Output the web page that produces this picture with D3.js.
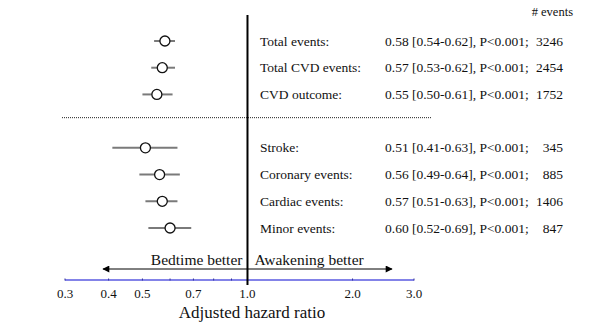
<!DOCTYPE html>
<html>
<head>
<meta charset="utf-8">
<title>forest plot</title>
<script src="https://d3js.org/d3.v7.min.js"></script>
<style>
  body { margin: 0; background: #fff; }
  text { font-family: "Liberation Serif", "Times New Roman", serif; fill: #111; }
</style>
</head>
<body>
<svg class="chart"></svg>
<script>
var labels = ["Total events:", "Total CVD events:", "CVD outcome:", "Stroke:", "Coronary events:", "Cardiac events:", "Minor events:"];
var rowIdx = [0, 1, 2, 4, 5, 6, 7];
var est = [0.58, 0.57, 0.55, 0.51, 0.56, 0.57, 0.60];
var lo  = [0.54, 0.53, 0.50, 0.41, 0.49, 0.51, 0.52];
var hi  = [0.62, 0.62, 0.61, 0.63, 0.64, 0.63, 0.69];
var pval = ["P<0.001", "P<0.001", "P<0.001", "P<0.001", "P<0.001", "P<0.001", "P<0.001"];
var nEvents = [3246, 2454, 1752, 345, 885, 1406, 847];
var tickVals = [0.3, 0.4, 0.5, 0.6, 0.7, 0.8, 0.9, 1.0, 2.0, 3.0];
var tickLabels = [0.3, 0.4, 0.5, 0.7, 1.0, 2.0, 3.0];

var svgWidth = 591, svgHeight = 327;
var svg = d3.select(".chart").attr("width", svgWidth).attr("height", svgHeight);

var x = d3.scaleLog().domain([0.3, 3.0]).range([65, 414]);
var y = d3.scaleLinear().domain([0, 7]).range([41, 228]);
var axisY = 280;
var rowFont = 13.5;

var rows = labels.map(function (l, i) {
  return {label: l, row: rowIdx[i], est: est[i], lo: lo[i], hi: hi[i], p: pval[i], n: nEvents[i]};
});

// axis line (blue) with tiny ticks
svg.append("line")
  .attr("x1", x(0.3)).attr("x2", x(3.0))
  .attr("y1", axisY).attr("y2", axisY)
  .attr("stroke", "#5a5ae0").attr("stroke-width", 1.5);
svg.selectAll(".tk").data(tickVals).enter().append("line")
  .attr("x1", d => x(d)).attr("x2", d => x(d))
  .attr("y1", axisY - 1.5).attr("y2", axisY + 0.5)
  .attr("stroke", "#333399").attr("stroke-width", 1);
svg.selectAll(".tl").data(tickLabels).enter().append("text")
  .attr("x", d => x(d)).attr("y", axisY + 18)
  .attr("text-anchor", "middle").attr("font-size", 13)
  .text(d => d.toFixed(1));
svg.append("text")
  .attr("x", 252).attr("y", 318)
  .attr("text-anchor", "middle").attr("font-size", 17)
  .text("Adjusted hazard ratio");

// dotted separator
svg.append("line")
  .attr("x1", 62).attr("x2", 432)
  .attr("y1", y(2.87)).attr("y2", y(2.87))
  .attr("stroke", "#222").attr("stroke-width", 1)
  .attr("stroke-dasharray", "1,1");

// reference line at 1
svg.append("line")
  .attr("x1", x(1)).attr("x2", x(1))
  .attr("y1", 15).attr("y2", 285)
  .attr("stroke", "#000").attr("stroke-width", 2);

// arrows
var defs = svg.append("defs");
defs.append("marker").attr("id", "ah")
  .attr("viewBox", "0 0 10 10").attr("refX", 9).attr("refY", 5)
  .attr("markerWidth", 11).attr("markerHeight", 7).attr("markerUnits", "userSpaceOnUse")
  .attr("orient", "auto")
  .append("path").attr("d", "M0,0 L10,5 L0,10 Z").attr("fill", "#000");
var arrowY = 269;
svg.append("line").attr("x1", x(1)).attr("x2", 103).attr("y1", arrowY).attr("y2", arrowY)
  .attr("stroke", "#000").attr("stroke-width", 1).attr("marker-end", "url(#ah)");
svg.append("line").attr("x1", x(1)).attr("x2", 392).attr("y1", arrowY).attr("y2", arrowY)
  .attr("stroke", "#000").attr("stroke-width", 1).attr("marker-end", "url(#ah)");
svg.append("text").attr("x", x(1) - 5).attr("y", arrowY - 4)
  .attr("text-anchor", "end").attr("font-size", 15.5).text("Bedtime better");
svg.append("text").attr("x", x(1) + 7).attr("y", arrowY - 4)
  .attr("font-size", 15.5).text("Awakening better");

// CI lines and points
svg.selectAll(".ci").data(rows).enter().append("line")
  .attr("x1", d => x(d.lo)).attr("x2", d => x(d.hi))
  .attr("y1", d => y(d.row)).attr("y2", d => y(d.row))
  .attr("stroke", "#7a7a7a").attr("stroke-width", 2);
svg.selectAll(".pt").data(rows).enter().append("circle")
  .attr("cx", d => x(d.est)).attr("cy", d => y(d.row)).attr("r", 5)
  .attr("fill", "#fff").attr("stroke", "#111").attr("stroke-width", 1.3);

// text columns
svg.append("text").attr("x", 573).attr("y", 16).attr("text-anchor", "end")
  .attr("font-size", 12.5).text("# events");
svg.selectAll(".lab").data(rows).enter().append("text")
  .attr("x", 260).attr("y", d => y(d.row) + 4.5).attr("font-size", rowFont)
  .text(d => d.label);
svg.selectAll(".val").data(rows).enter().append("text")
  .attr("x", 385).attr("y", d => y(d.row) + 4.5).attr("font-size", rowFont)
  .text(d => d.est.toFixed(2) + " [" + d.lo.toFixed(2) + "-" + d.hi.toFixed(2) + "], " + d.p + ";");
svg.selectAll(".num").data(rows).enter().append("text")
  .attr("x", 563).attr("y", d => y(d.row) + 4.5).attr("text-anchor", "end").attr("font-size", rowFont)
  .text(d => d.n);
</script>
</body>
</html>
